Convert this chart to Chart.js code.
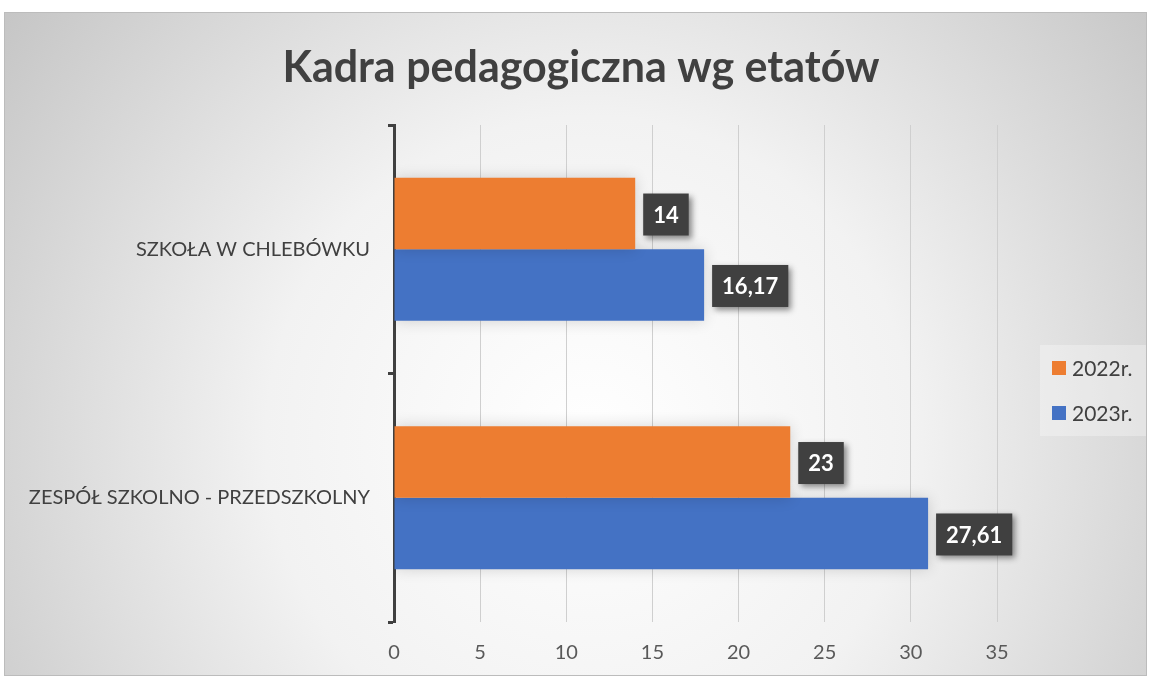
<!DOCTYPE html>
<html lang="pl">
<head>
<meta charset="utf-8">
<title>Kadra pedagogiczna wg etatów</title>
<script src="https://cdn.jsdelivr.net/npm/chart.js@4"></script>
<style>
  html, body { margin: 0; padding: 0; background: #fff; }
  #wrap { width: 1151px; height: 678px; position: relative; }
</style>
</head>
<body>
<div id="wrap"><canvas id="kadraChart"></canvas></div>
<script>
'use strict';

let chartTitle = 'Kadra pedagogiczna wg etatów';
let categories = ['SZKOŁA W CHLEBÓWKU', 'ZESPÓŁ SZKOLNO - PRZEDSZKOLNY'];
let seriesNames = ['2022r.', '2023r.'];
let values2022 = [14, 23];
let values2023 = [18, 31];
// the labels printed on the bars (they do not match the bar lengths in the original)
let labels2022 = ['14', '23'];
let labels2023 = ['16,17', '27,61'];
let xTicks = [0, 5, 10, 15, 20, 25, 30, 35];

let orange = '#ED7D31';
let blue = '#4472C4';
let textColor = '#404040';
let fontName = 'Lato, "Open Sans", sans-serif';

// gradient card with a thin frame, like the office chart background
const backgroundPlugin = {
  id: 'cardBackground',
  beforeDraw(chart) {
    let ctx = chart.ctx;
    ctx.save();
    ctx.fillStyle = '#fff';
    ctx.fillRect(0, 0, chart.width, chart.height);
    let grad = ctx.createRadialGradient(590, 440, 0, 590, 440, 720);
    grad.addColorStop(0, '#ffffff');
    grad.addColorStop(0.45, '#f2f2f2');
    grad.addColorStop(1, '#c6c6c6');
    ctx.fillStyle = grad;
    ctx.fillRect(4, 12, 1143, 664);
    ctx.strokeStyle = '#bcbcbc';
    ctx.lineWidth = 1;
    ctx.strokeRect(4.5, 12.5, 1142, 663);

    // title, centred on the whole card (the legend sits outside the plot)
    ctx.fillStyle = textColor;
    ctx.font = 'bold 43px ' + fontName;
    ctx.textAlign = 'center';
    ctx.textBaseline = 'middle';
    ctx.fillText(chartTitle, 581, 68);
    ctx.restore();
  }
};

const barShadowPlugin = {
  id: 'barShadow',
  beforeDatasetsDraw(chart) {
    let ctx = chart.ctx;
    ctx.save();
    ctx.shadowColor = 'rgba(0, 0, 0, 0.16)';
    ctx.shadowBlur = 14;
    ctx.shadowOffsetX = 0;
    ctx.shadowOffsetY = 0;
  },
  afterDatasetsDraw(chart) {
    chart.ctx.restore();
  }
};

const valueBoxPlugin = {
  id: 'valueBoxes',
  afterDatasetsDraw(chart) {
    let ctx = chart.ctx;
    let allLabels = [labels2022, labels2023];
    ctx.save();
    ctx.font = 'bold 22px ' + fontName;
    ctx.textAlign = 'center';
    ctx.textBaseline = 'middle';
    chart.data.datasets.forEach(function (ds, i) {
      let meta = chart.getDatasetMeta(i);
      meta.data.forEach(function (bar, j) {
        let text = allLabels[i][j];
        let w = ctx.measureText(text).width + 20;
        let h = 42;
        let left = bar.x + 8;
        let top = bar.y - h / 2 + 1;
        ctx.save();
        ctx.shadowColor = 'rgba(0, 0, 0, 0.45)';
        ctx.shadowBlur = 6;
        ctx.shadowOffsetX = 3;
        ctx.shadowOffsetY = 3;
        ctx.fillStyle = '#404040';
        ctx.fillRect(left, top, w, h);
        ctx.restore();
        ctx.fillStyle = '#ffffff';
        ctx.fillText(text, left + w / 2, top + h / 2 + 1);
      });
    });
    ctx.restore();
  }
};

const sideLegendPlugin = {
  id: 'sideLegend',
  afterDraw(chart) {
    let ctx = chart.ctx;
    ctx.save();
    ctx.fillStyle = 'rgba(255, 255, 255, 0.3)';
    ctx.fillRect(1040, 345, 106, 91);
    ctx.font = '21px ' + fontName;
    ctx.textBaseline = 'middle';
    ctx.textAlign = 'left';
    chart.data.datasets.forEach(function (ds, i) {
      let cy = 368 + i * 45;
      ctx.fillStyle = ds.backgroundColor;
      ctx.fillRect(1052, cy - 7, 14, 14);
      ctx.fillStyle = textColor;
      ctx.fillText(ds.label, 1072, cy + 1);
    });
    ctx.restore();
  }
};

const data = {
  labels: categories,
  datasets: [{
    label: seriesNames[0],
    data: values2022,
    backgroundColor: orange,
    borderWidth: 0
  },
  {
    label: seriesNames[1],
    data: values2023,
    backgroundColor: blue,
    borderWidth: 0
  }]
};

const config = {
  type: 'bar',
  data: data,
  options: {
    indexAxis: 'y',
    responsive: true,
    maintainAspectRatio: false,
    animation: false,
    layout: {
      padding: { left: 0, right: 154, top: 125, bottom: 0 }
    },
    datasets: {
      bar: {
        categoryPercentage: 0.575,
        barPercentage: 1.0
      }
    },
    scales: {
      x: {
        min: 0,
        max: 35,
        afterBuildTicks(scale) {
          scale.ticks = xTicks.map(v => ({ value: v }));
        },
        afterFit(scale) {
          scale.height = 56;
        },
        grid: {
          color: '#cfcfcf',
          lineWidth: 1,
          drawTicks: false
        },
        border: { display: false },
        ticks: {
          color: '#595959',
          font: { family: fontName, size: 20 },
          padding: 19
        }
      },
      y: {
        afterFit(scale) {
          scale.width = 394;
        },
        grid: {
          offset: true,
          drawOnChartArea: false,
          color: textColor,
          tickLength: 6,
          tickWidth: 3
        },
        border: { display: true, color: textColor, width: 3 },
        ticks: {
          color: textColor,
          font: { family: fontName, size: 20 },
          padding: 18
        }
      }
    },
    plugins: {
      legend: { display: false },
      tooltip: { enabled: false },
      title: { display: false }
    }
  },
  plugins: [backgroundPlugin, barShadowPlugin, valueBoxPlugin, sideLegendPlugin]
};

const kadraChart = new Chart(document.getElementById('kadraChart'), config);
</script>
</body>
</html>
